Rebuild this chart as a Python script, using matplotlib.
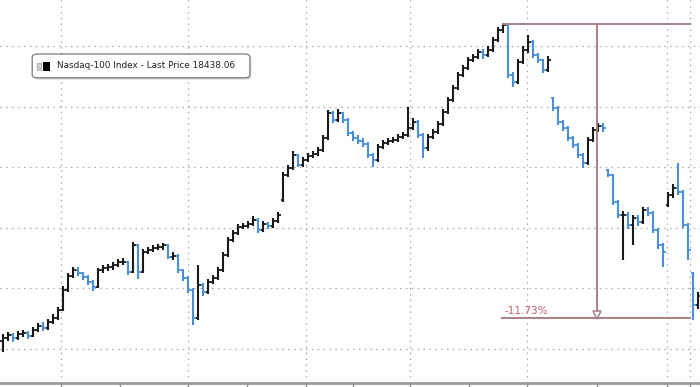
import matplotlib
matplotlib.use("Agg")
import matplotlib.pyplot as plt
from matplotlib.patches import FancyBboxPatch, Rectangle

# Nasdaq-100 Index, OHLC bars
opens = [
    18070, 18091, 18116, 18091, 18124, 18132, 18107, 18157, 18190, 18174,
    18223, 18256, 18322, 18488, 18603, 18653, 18628, 18595, 18554, 18512,
    18653, 18669, 18678, 18694, 18719, 18719, 18636, 18859, 18636, 18802,
    18818, 18835, 18843, 18859, 18760, 18769, 18653, 18587, 18488, 18256,
    18529, 18471, 18554, 18587, 18653, 18777, 18901, 18959, 19008, 19016,
    19033, 19066, 18983, 19033, 19016, 19058, 19230, 19438, 19496, 19603,
    19521, 19562, 19595, 19611, 19645, 19744, 19950, 19892, 19950, 19892,
    19785, 19744, 19719, 19694, 19603, 19562, 19669, 19702, 19719, 19727,
    19752, 19769, 19826, 19876, 19769, 19661, 19752, 19793, 19859, 19959,
    20058, 20157, 20264, 20322, 20388, 20413, 20454, 20430, 20471, 20554,
    20636, 20678, 20264, 20206, 20372, 20471, 20537, 20430, 20388, 20306,
    20074, 19992, 19876, 19826, 19744, 19686, 19603, 19537, 19727, 19810,
    19843, 19479, 19438, 19215, 19107, 19107, 19025, 19083, 19050, 19149,
    19124, 18983, 18859, 19190, 19273, 19330, 19297, 19025, 18630, 18364,
]
highs = [
    18120, 18140, 18135, 18150, 18160, 18150, 18180, 18215, 18220, 18245,
    18290, 18350, 18520, 18625, 18680, 18675, 18640, 18610, 18570, 18670,
    18695, 18700, 18720, 18745, 18750, 18730, 18884, 18870, 18825, 18845,
    18860, 18870, 18880, 18870, 18800, 18785, 18665, 18600, 18500, 18694,
    18545, 18580, 18610, 18680, 18800, 18925, 18985, 19035, 19045, 19060,
    19095, 19080, 19055, 19050, 19080, 19135, 19460, 19520, 19640, 19615,
    19590, 19620, 19640, 19670, 19770, 19975, 19965, 19980, 19960, 19905,
    19800, 19765, 19740, 19710, 19620, 19690, 19725, 19745, 19755, 19780,
    19795, 20000, 19910, 19890, 19785, 19775, 19820, 19885, 19985, 20085,
    20180, 20290, 20350, 20415, 20440, 20480, 20475, 20500, 20580, 20660,
    20686, 20680, 20290, 20395, 20500, 20595, 20550, 20450, 20400, 20420,
    20080, 20010, 19895, 19840, 19760, 19700, 19620, 19750, 19835, 19870,
    19870, 19485, 19450, 19230, 19140, 19130, 19110, 19110, 19175, 19170,
    19140, 19000, 18880, 19300, 19360, 19537, 19310, 19040, 18640, 18470,
]
lows = [
    17975, 18070, 18060, 18075, 18100, 18080, 18095, 18140, 18150, 18160,
    18205, 18240, 18310, 18470, 18590, 18600, 18570, 18530, 18480, 18500,
    18630, 18645, 18655, 18680, 18690, 18610, 18625, 18580, 18625, 18785,
    18800, 18815, 18820, 18740, 18735, 18630, 18560, 18460, 18198, 18240,
    18440, 18455, 18535, 18570, 18640, 18760, 18885, 18940, 18990, 19000,
    19015, 18960, 18970, 18995, 19000, 19040, 19215, 19420, 19480, 19500,
    19505, 19545, 19580, 19595, 19630, 19730, 19870, 19875, 19870, 19760,
    19720, 19695, 19670, 19580, 19500, 19545, 19650, 19685, 19700, 19710,
    19735, 19750, 19810, 19745, 19578, 19640, 19735, 19775, 19840, 19940,
    20040, 20140, 20245, 20305, 20370, 20395, 20400, 20410, 20455, 20540,
    20615, 20240, 20165, 20190, 20355, 20450, 20405, 20360, 20280, 20290,
    19970, 19850, 19800, 19720, 19660, 19575, 19496, 19520, 19710, 19790,
    19795, 19420, 19190, 19080, 18735, 18990, 18859, 19020, 19030, 19095,
    18960, 18830, 18678, 19170, 19250, 19270, 19000, 18735, 18240, 18330,
]
closes = [
    18091, 18116, 18091, 18124, 18132, 18107, 18157, 18190, 18174, 18223,
    18256, 18322, 18488, 18603, 18653, 18628, 18595, 18554, 18512, 18653,
    18669, 18678, 18694, 18719, 18719, 18636, 18859, 18636, 18802, 18818,
    18835, 18843, 18859, 18760, 18769, 18653, 18587, 18488, 18256, 18529,
    18471, 18554, 18587, 18653, 18777, 18901, 18959, 19008, 19016, 19033,
    19066, 18983, 19033, 19016, 19058, 19107, 19438, 19496, 19603, 19521,
    19562, 19595, 19611, 19645, 19744, 19950, 19892, 19950, 19892, 19785,
    19744, 19719, 19694, 19603, 19562, 19669, 19702, 19719, 19727, 19752,
    19769, 19826, 19876, 19769, 19661, 19752, 19793, 19859, 19959, 20058,
    20157, 20264, 20322, 20388, 20413, 20454, 20430, 20471, 20554, 20636,
    20678, 20264, 20206, 20372, 20471, 20537, 20430, 20388, 20306, 20388,
    19992, 19876, 19826, 19744, 19686, 19603, 19537, 19727, 19810, 19843,
    19826, 19438, 19215, 19107, 19107, 19025, 19083, 19050, 19149, 19124,
    18983, 18859, 18802, 19273, 19330, 19297, 19025, 18818, 18364, 18438,
]

last_price = 18438.06
drop_pct = -11.73
peak_bar = 100
arrow_pos = 118.8
box_end = 137.4

price_grid = [18000, 18500, 19000, 19500, 20000, 20500]
date_grid = [11.6, 37, 60.6, 81.4, 104.8, 132.8, 137.4]
date_ticks = [11.6, 23.4, 37, 48.8, 60.6, 70, 81.4, 93.2, 104.8, 118.8, 132.8, 137.4]

up_col = "#1a1a1a"
down_col = "#4a90d9"
note_col = "#a88082"

fig = plt.figure(figsize=(7, 3.87), dpi=100)
ax = fig.add_axes([0, 4 / 387, 1, 383 / 387])

xs = list(range(len(closes)))
cols = [down_col if c < o else up_col for o, c in zip(opens, closes)]
ax.vlines(xs, lows, highs, colors=cols, linewidth=1.5, zorder=3)
ax.hlines(opens, [x - 0.5 for x in xs], xs, colors=cols, linewidth=1.3, zorder=3)
ax.hlines(closes, xs, [x + 0.5 for x in xs], colors=cols, linewidth=1.3, zorder=3)

# grid
for p in price_grid:
    ax.axhline(p, color="#a8a8a8", linestyle=(0, (1.2, 3.5)), linewidth=0.9, zorder=1)
for d in date_grid:
    ax.axvline(d, color="#a8a8a8", linestyle=(0, (1.2, 3.5)), linewidth=0.9, zorder=1)

# drawdown annotation
top = highs[peak_bar]
bottom = top * (1 + drop_pct / 100)
ax.plot([peak_bar, box_end], [top, top], color=note_col, linewidth=1.4, zorder=4)
ax.plot([peak_bar - 0.2, box_end], [bottom, bottom], color=note_col, linewidth=1.4, zorder=4)
ax.plot([arrow_pos, arrow_pos], [top, bottom + 30], color=note_col, linewidth=1.4, zorder=4)
ax.plot([arrow_pos], [bottom + 25], marker="v", markersize=6, markerfacecolor="white",
        markeredgecolor=note_col, markeredgewidth=1.1, zorder=5)
ax.text(peak_bar + 0.3, bottom + 12, f"{drop_pct:.2f}%", color="#c0606a", fontsize=7.5,
        ha="left", va="bottom", zorder=5)

ax.set_xlim(-0.6, 139.4)
ax.set_ylim(17719, 20884)

ax.set_xticks(date_ticks)
ax.set_xticklabels([])
ax.set_yticks([])
ax.tick_params(axis="x", direction="out", length=3, color="#888888", width=1)
for s in ["left", "right", "top"]:
    ax.spines[s].set_visible(False)
ax.spines["bottom"].set_color("#9a9a9a")
ax.spines["bottom"].set_linewidth(2)

# legend box
shadow = FancyBboxPatch((0.048, 0.792), 0.311, 0.062, boxstyle="round,pad=0,rounding_size=0.008",
                        transform=ax.transAxes, facecolor="#d8d8d8", edgecolor="none", zorder=6)
box = FancyBboxPatch((0.046, 0.797), 0.311, 0.062, boxstyle="round,pad=0,rounding_size=0.008",
                     transform=ax.transAxes, facecolor="white", edgecolor="#7a7a7a",
                     linewidth=0.9, zorder=7)
ax.add_patch(shadow)
ax.add_patch(box)
ax.add_patch(Rectangle((0.053, 0.818), 0.006, 0.018, transform=ax.transAxes,
                       facecolor="#cfcfcf", edgecolor="#9a9a9a", linewidth=0.5, zorder=8))
ax.add_patch(Rectangle((0.061, 0.815), 0.011, 0.024, transform=ax.transAxes,
                       facecolor="black", edgecolor="none", zorder=8))
ax.text(0.081, 0.828, f"Nasdaq-100 Index - Last Price {last_price:.2f}", transform=ax.transAxes,
        fontsize=6.4, color="#222222", ha="left", va="center", zorder=8)

fig.savefig("out.png", dpi=100)
